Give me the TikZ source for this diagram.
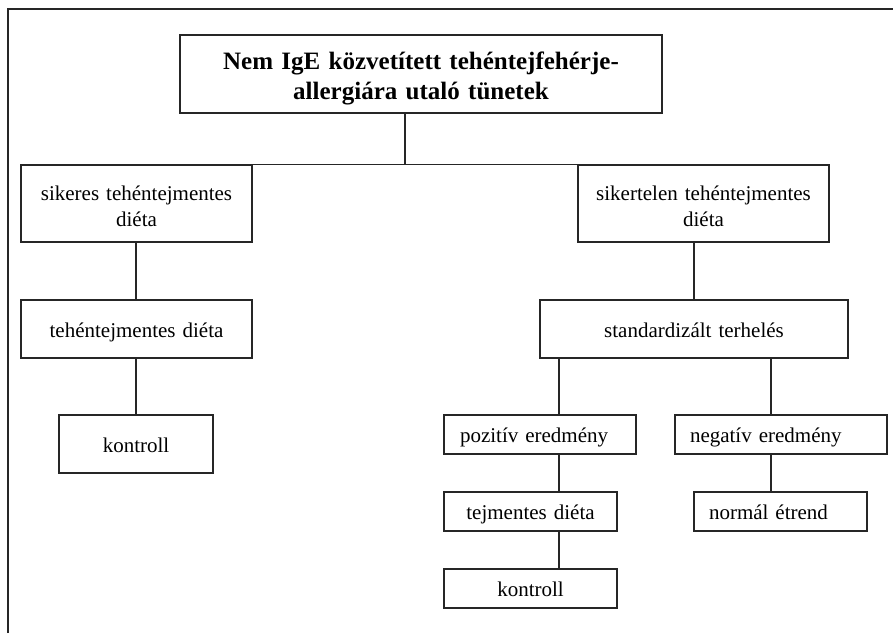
\documentclass[tikz,border=0pt]{standalone}
\usepackage{fontspec}
\setmainfont{Liberation Serif}
\newcommand\lowr[2][2.5pt]{\raisebox{-#1}[\height][\depth]{#2}}
\begin{document}
\begin{tikzpicture}[x=1pt,y=-1pt,
  line width=1.25pt, draw=black!85,
  box/.style={draw=black!85, rectangle, inner ysep=0pt, text=black,
    font=\fontsize{21}{26}\selectfont},
  cbox/.style={box, align=center},
  sbox/.style={box, align=center, text height=20pt, text depth=4pt},
  lbox/.style={box, align=left, text height=20pt, text depth=4pt},
  conn/.style={draw=black!85, line width=1.25pt}]
\useasboundingbox (0,0) rectangle (893,633);
% frame
\draw[line width=1.3pt, draw=black!85] (8,633) -- (8,9) -- (893,9);
% nodes
\node[box, align=center, inner xsep=10pt, text width=462pt, minimum height=78pt,
  font=\fontsize{25}{30}\selectfont\bfseries] (top) at (421,74)
  {\lowr[4.4pt]{Nem IgE közvetített tehéntejfehérje-}\\\lowr[4.4pt]{allergiára utaló tünetek}};
\node[cbox, inner xsep=10pt, text width=211pt, minimum height=77pt] (left1) at (136.5,203.5)
  {\lowr{sikeres tehéntejmentes}\\\lowr{diéta}};
\node[cbox, inner xsep=10pt, text width=231pt, minimum height=77pt] (right1) at (703.5,203.5)
  {\lowr{sikertelen tehéntejmentes}\\\lowr{diéta}};
\node[sbox, inner xsep=10pt, text width=211pt, minimum height=58pt] (left2) at (136.5,329)
  {tehéntejmentes diéta};
\node[sbox, inner xsep=10pt, text width=134pt, minimum height=58pt] (kon1) at (136,444)
  {kontroll};
\node[sbox, inner xsep=10pt, text width=288pt, minimum height=58pt] (std) at (694,329)
  {standardizált terhelés};
\node[lbox, inner xsep=16pt, text width=160pt, minimum height=39pt] (pos) at (540,434.5)
  {pozitív eredmény};
\node[lbox, inner xsep=15pt, text width=182pt, minimum height=39pt] (neg) at (781,434.5)
  {negatív eredmény};
\node[sbox, inner xsep=10pt, text width=153pt, minimum height=39pt] (tej) at (530.5,511.5)
  {tejmentes diéta};
\node[lbox, inner xsep=15pt, text width=143pt, minimum height=39pt] (norm) at (780.5,511.5)
  {normál étrend};
\node[sbox, inner xsep=10pt, text width=153pt, minimum height=39pt] (kon2) at (530.5,588.5)
  {kontroll};
% helper coordinates
\coordinate (j) at (405,165);
\coordinate (pv) at (559,0);
\coordinate (nv) at (771,0);
\coordinate (lv) at (136,0);
% connectors
\draw[conn] (top.south -| j) -- (j);
\draw[conn] (left1.north east) -- (right1.north west);
\draw[conn] (left1.south -| lv) -- (left2.north -| lv);
\draw[conn] (left2.south -| lv) -- (kon1.north -| lv);
\draw[conn] (right1.south -| std.north) -- (std.north);
\draw[conn] (std.south -| pv) -- (pos.north -| pv);
\draw[conn] (std.south -| nv) -- (neg.north -| nv);
\draw[conn] (pos.south -| pv) -- (tej.north -| pv);
\draw[conn] (tej.south -| pv) -- (kon2.north -| pv);
\draw[conn] (neg.south -| nv) -- (norm.north -| nv);
\end{tikzpicture}
\end{document}
